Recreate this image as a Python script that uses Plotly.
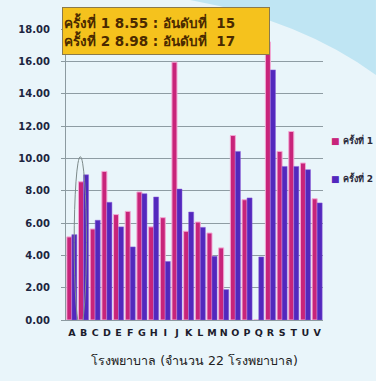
import plotly.graph_objects as go

hospitals = list("ABCDEFGHIJKLMNOPQRSTUV")
round1 = [5.14, 8.55, 5.63, 9.19, 6.52, 6.72, 7.92, 5.76, 6.33, 15.95, 5.49,
          6.06, 5.38, 4.46, 11.41, 7.44, 0.0, 17.20, 10.43, 11.66, 9.71, 7.50]
round2 = [5.28, 8.98, 6.17, 7.28, 5.76, 4.52, 7.81, 7.61, 3.62, 8.10, 6.68,
          5.73, 3.94, 1.88, 10.43, 7.55, 3.90, 15.47, 9.50, 9.50, 9.30, 7.24]
series_names = ["ครั้งที่ 1", "ครั้งที่ 2"]
y_ticks = [0, 2, 4, 6, 8, 10, 12, 14, 16, 18]
note_lines = ["ครั้งที่ 1 8.55 : อันดับที่&nbsp;&nbsp;15", "ครั้งที่ 2 8.98 : อันดับที่&nbsp;&nbsp;17"]
x_title = "โรงพยาบาล (จำนวน 22 โรงพยาบาล)"

PINK = "#c8247a"
BLUE = "#5228bd"
FONT = "DejaVu Sans, Noto Sans, sans-serif"

fig = go.Figure()
fig.add_trace(go.Bar(x=hospitals, y=round1, name=series_names[0],
                     marker=dict(color=PINK, line=dict(color="#f2a8d4", width=1))))
fig.add_trace(go.Bar(x=hospitals, y=round2, name=series_names[1],
                     marker=dict(color=BLUE, line=dict(color="#8c5fd8", width=0.5))))

legend_annots = []
for name, color, ypos in zip(series_names, [PINK, BLUE], [0.619, 0.489]):
    legend_annots.append(dict(
        xref="paper", yref="paper", x=1.2, y=ypos, xanchor="right", yanchor="middle",
        showarrow=False, align="left", borderpad=0,
        text=f'<span style="color:{color}">■</span> {name}',
        font=dict(size=9, family=FONT, color="#2a2a3a", weight="bold")))

fig.update_layout(
    width=376, height=381,
    margin=dict(l=66, r=53, t=29, b=60.5, autoexpand=False),
    paper_bgcolor="#e9f5fa",
    plot_bgcolor="rgba(0,0,0,0)",
    barmode="group", bargap=0.14, bargroupgap=0.0,
    font=dict(family=FONT, color="#1c2540"),
    showlegend=False,
    xaxis=dict(type="category", range=[-0.5, 21.5],
               tickfont=dict(size=9.5, family=FONT, color="#1c1c2c", weight="bold"),
               showgrid=False, showline=True, linecolor="#8c9aa0", linewidth=1,
               ticks="", ticklabelstandoff=4,
               title=dict(text=x_title, font=dict(size=12.5, family=FONT, color="#222"),
                          standoff=18)),
    yaxis=dict(range=[0, 18], tickvals=y_ticks, tickformat=".2f",
               tickfont=dict(size=10, family=FONT, color="#1c2540", weight="bold"),
               showgrid=True, gridcolor="#8e9ca3", gridwidth=1,
               showline=True, linecolor="#8c9aa0", linewidth=1,
               ticks="outside", ticklen=4, tickcolor="#8c9aa0",
               ticklabelstandoff=9, zeroline=False),
    shapes=[
        dict(type="path", xref="paper", yref="paper", layer="below",
             path="M 0.4825 1.0995 Q 0.9105 1.031 1.206 0.8422 L 1.206 1.0995 Z",
             fillcolor="#bfe5f3", line=dict(width=0)),
        dict(type="circle", xref="x", yref="y", layer="above",
             x0=0.2, x1=1.25, y0=-0.5, y1=10.1,
             line=dict(color="#7d8a8a", width=1)),
    ],
    annotations=[
        dict(xref="paper", yref="paper", x=-0.0156, y=0.993, xanchor="left", yanchor="middle",
             text="<br>".join(note_lines), showarrow=False, align="left",
             font=dict(size=13.5, family=FONT, color="#4a2a00", weight="bold"),
             bgcolor="#f5c21d", bordercolor="#8a7a4c", borderwidth=1,
             width=204, height=44, borderpad=1),
    ] + legend_annots,
)

fig.write_html("out.html", config={"displayModeBar": False},
               post_script="document.body.style.margin='0';document.body.style.overflow='hidden';")
